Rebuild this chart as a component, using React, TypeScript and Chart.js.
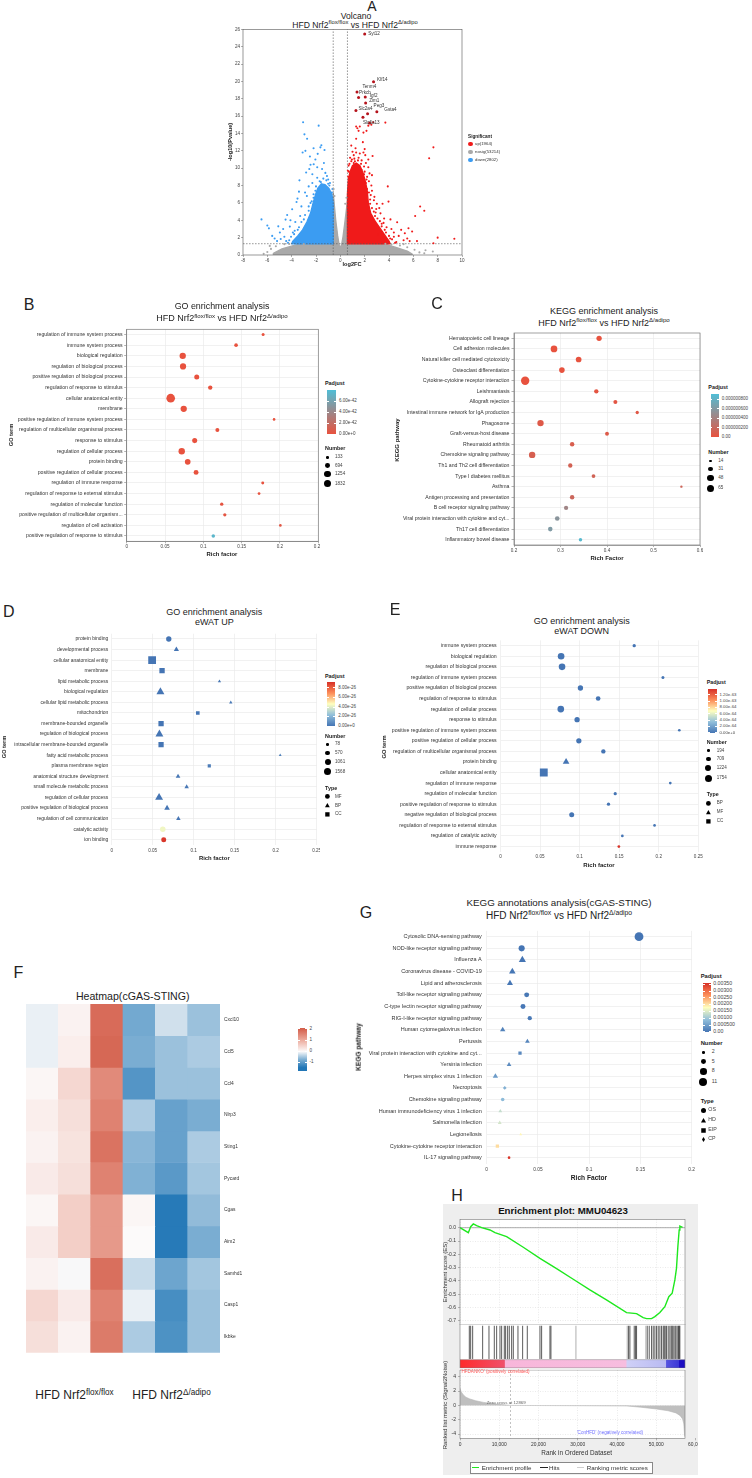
import React, { useEffect, useRef } from 'react';
import { Chart, registerables } from 'chart.js';

Chart.register(...registerables);

const FONT = '"Liberation Sans", Arial, Helvetica, sans-serif';
Chart.defaults.font.family = FONT;
Chart.defaults.color = '#444';

/* ================= A · volcano ================= */
const volcanoFcCut = 0.585;
const volcanoPCut = 1.301;
const volcanoXTicks = [-8, -6, -4, -2, 0, 2, 4, 6, 8, 10];
const volcanoYTicks = [0, 2, 4, 6, 8, 10, 12, 14, 16, 18, 20, 22, 24, 26];
const volcanoGroups = ['up', 'nosig', 'down'];
const volcanoGroupCounts = [1964, 53214, 2802];

const topGenes = ['Syt12', 'Klf14', 'Tenm4', 'Prkcb', 'Igf2', 'Zim1', 'Peg3', 'Gsta4', 'Slc2a4', 'Slc6a13'];
const topGeneFc = [2.0, 2.73, 1.37, 1.5, 2.05, 2.08, 2.24, 3.0, 1.28, 2.4];
const topGeneP = [25.46, 19.96, 18.77, 18.15, 18.2, 17.5, 16.27, 16.5, 16.65, 15.2];
const topExtraFc = [1.86];
const topExtraP = [15.88];

const upPoints = [
  [0.9, 12.6], [1.0, 11.9], [1.1, 11.5], [0.8, 11.2], [1.3, 11.8], [1.6, 11.7], [1.9, 11.8], [2.05, 11.5], [1.5, 11.2],
  [1.2, 10.8], [0.75, 10.5], [1.75, 10.9], [2.1, 10.6], [2.3, 10.1], [1.95, 10.2], [2.4, 9.4], [2.6, 9.2], [2.2, 9.0],
  [0.7, 9.6], [2.0, 12.2], [2.3, 11.0], [2.65, 11.4], [1.3, 13.4], [1.5, 14.3], [1.6, 14.8], [1.4, 14.6], [1.9, 14.1],
  [2.15, 14.3], [1.85, 13.0], [1.25, 12.3], [2.55, 15.0], [2.7, 15.3], [2.3, 14.9], [3.7, 15.25], [1.3, 14.8], [2.6, 7.4],
  [2.8, 6.7], [2.76, 6.3], [3.0, 5.9], [2.5, 6.9], [3.47, 5.9], [3.96, 6.15], [3.9, 7.9], [3.3, 4.8], [3.6, 4.2], [4.12, 4.1],
  [4.67, 3.77], [5.0, 2.9], [4.4, 2.6], [4.8, 2.2], [5.3, 2.5], [5.6, 3.08], [5.5, 1.9], [5.7, 1.6], [4.6, 1.5], [3.2, 5.4],
  [2.9, 4.9], [3.8, 3.2], [3.4, 3.6], [4.2, 3.0], [2.55, 8.0], [2.35, 8.5], [5.2, 1.7], [3.1, 2.4], [4.0, 2.2], [7.65, 12.4],
  [7.3, 11.15], [6.56, 5.58], [6.9, 5.1], [6.15, 4.5], [8.0, 2.0], [7.65, 1.35], [9.37, 1.88], [5.9, 2.7], [6.3, 1.6],
  [0.65, 9.0], [0.7, 8.3], [1.1, 10.6], [2.45, 5.9], [2.75, 5.0], [3.25, 3.9], [3.65, 2.9], [4.1, 1.9], [4.5, 1.4], [2.2, 7.6],
  [1.75, 9.8], [0.95, 11.0], [2.1, 8.3], [0.62, 9.7], [0.9, 10.8], [1.45, 10.9], [1.7, 10.5], [1.95, 9.3], [2.15, 8.7],
  [2.35, 7.2], [2.45, 6.4], [2.6, 5.4], [2.85, 4.5], [3.05, 4.2], [3.4, 3.3], [3.75, 2.6], [4.25, 1.8], [4.4, 2.1], [3.55, 3.7],
  [2.95, 5.3], [2.0, 9.6], [1.15, 11.1], [0.68, 10.3],
];
const downPoints = [
  [-3.06, 15.3], [-1.78, 14.9], [-2.95, 13.9], [-2.73, 13.4], [-2.87, 12.0], [-1.56, 12.65], [-1.64, 12.4], [-1.86, 11.65],
  [-2.5, 11.35], [-2.19, 10.46], [-1.23, 9.46], [-3.36, 8.6], [-2.81, 9.5], [-2.55, 9.9], [-1.9, 10.1], [-1.5, 9.9], [-2.3, 9.3],
  [-1.35, 10.6], [-2.05, 11.0], [-3.52, 6.5], [-3.6, 6.1], [-3.96, 5.27], [-4.37, 4.6], [-4.5, 4.08], [-6.48, 4.1], [-6.0, 3.4],
  [-5.87, 3.07], [-5.6, 2.2], [-4.97, 2.6], [-4.9, 1.85], [-4.15, 3.27], [-3.7, 3.8], [-3.3, 4.5], [-3.2, 5.6], [-2.9, 7.2],
  [-2.6, 7.9], [-2.3, 8.3], [-1.0, 8.7], [-0.9, 8.0], [-3.9, 2.6], [-4.6, 2.1], [-5.2, 1.6], [-5.4, 1.9], [-3.4, 7.3], [-4.1, 4.0],
  [-2.75, 6.8], [-5.1, 3.3], [-4.7, 3.0], [-1.3, 12.1], [-2.2, 12.3], [-3.1, 11.8], [-2.45, 10.4], [-0.7, 7.2], [-1.0, 8.2],
  [-1.6, 8.4], [-2.05, 7.4], [-2.35, 6.2], [-2.6, 5.1], [-3.0, 4.1], [-3.4, 3.2], [-3.8, 2.4], [-4.2, 1.7], [-4.3, 1.4],
  [-1.9, 8.9], [-1.4, 8.8], [-0.65, 7.6], [-0.85, 8.3], [-1.15, 8.6], [-1.7, 8.5], [-2.0, 7.9], [-2.2, 7.0], [-2.45, 6.0],
  [-2.6, 5.6], [-2.9, 4.6], [-3.2, 3.8], [-3.5, 2.9], [-3.75, 2.8], [-4.05, 2.1], [-4.45, 1.6], [-2.2, 6.6], [-1.1, 9.1],
];
const nosigPoints = [
  [-5.7, 0.7], [-6.0, 0.35], [-6.3, 0.15], [-5.3, 1.0], [-4.6, 1.25], [4.2, 1.2], [4.9, 1.1], [5.5, 0.9], [6.1, 0.6], [6.5, 0.3],
  [7.0, 0.55], [6.9, 0.2], [-0.55, 7.6], [-0.48, 6.8], [0.5, 6.6], [0.4, 5.9], [-3.0, 1.25], [5.2, 1.25], [-5.8, 1.05], [7.6, 0.4],
  [-4.2, 1.28], [3.7, 1.28],
];
// outlines of the saturated point clouds
const upCloud = [
  [0.585, 1.3], [0.585, 7], [0.65, 8.6], [0.8, 9.6], [1.0, 10.3], [1.3, 10.6], [1.6, 10.3], [1.85, 9.5], [2.05, 8.5], [2.2, 7.5],
  [2.3, 6.0], [2.5, 4.8], [2.9, 3.8], [3.3, 3.0], [3.7, 2.2], [4.0, 1.6], [4.1, 1.3],
];
const downCloud = [
  [-0.585, 1.3], [-0.585, 6], [-0.7, 7.0], [-0.95, 7.7], [-1.25, 8.1], [-1.55, 8.2], [-1.85, 7.7], [-2.05, 6.9], [-2.25, 5.9],
  [-2.45, 4.8], [-2.75, 3.8], [-3.1, 2.9], [-3.5, 2.2], [-3.9, 1.6], [-4.0, 1.3],
];
const nosigCloud = [
  [-0.585, 7.2], [-0.5, 5.8], [-0.38, 4.0], [-0.22, 2.2], [-0.08, 1.0], [0.08, 1.0], [0.22, 2.1], [0.36, 3.6], [0.48, 5.0],
  [0.585, 6.2], [0.585, 1.3], [3.5, 1.3], [4.5, 0.9], [5.5, 0.45], [5.9, 0.1], [5.9, 0], [-5.5, 0], [-5.5, 0.2], [-4.8, 0.7],
  [-3.8, 1.1], [-3.3, 1.3], [-0.585, 1.3],
];

/* ================= B · GO (HFD) ================= */
const goTerms = [
  'regulation of immune system process', 'immune system process', 'biological regulation', 'regulation of biological process',
  'positive regulation of biological process', 'regulation of response to stimulus', 'cellular anatomical entity', 'membrane',
  'positive regulation of immune system process', 'regulation of multicellular organismal process', 'response to stimulus',
  'regulation of cellular process', 'protein binding', 'positive regulation of cellular process', 'regulation of immune response',
  'regulation of response to external stimulus', 'regulation of molecular function', 'positive regulation of multicellular organism...',
  'regulation of cell activation', 'positive regulation of response to stimulus',
];
const goRich = [0.178, 0.1427, 0.0731, 0.0735, 0.0914, 0.109, 0.0574, 0.0744, 0.1923, 0.1183, 0.0887, 0.0718, 0.0796, 0.0905, 0.1775, 0.1727, 0.124, 0.128, 0.2005, 0.113];
const goNumber = [190, 330, 1300, 1240, 740, 520, 2660, 1280, 133, 420, 760, 1350, 1000, 720, 180, 150, 260, 250, 133, 300];
const goPadj = [2.1e-45, 3.4e-46, 5.2e-46, 6.0e-46, 3.3e-45, 1.2e-44, 4.5e-46, 8.1e-46, 1.5e-44, 2.6e-44, 9.0e-46, 7.2e-46, 2.3e-45, 5.5e-45, 3.1e-44, 4.4e-44, 1.8e-43, 2.2e-43, 3.5e-43, 7.4e-42];
const goPadjMax = 8e-42;
const goPadjTicks = [6e-42, 4e-42, 2e-42, 0];
const goPadjLabels = ['6.00e-42', '4.00e-42', '2.00e-42', '0.00e+0'];
const goNumberKeys = [133, 694, 1254, 1832];
const goXTicks = [0, 0.05, 0.1, 0.15, 0.2, 0.25];

/* ================= C · KEGG (HFD) ================= */
const keggTerms = [
  'Hematopoietic cell lineage', 'Cell adhesion molecules', 'Natural killer cell mediated cytotoxicity', 'Osteoclast differentiation',
  'Cytokine-cytokine receptor interaction', 'Leishmaniasis', 'Allograft rejection', 'Intestinal immune network for IgA production',
  'Phagosome', 'Graft-versus-host disease', 'Rheumatoid arthritis', 'Chemokine signaling pathway', 'Th1 and Th2 cell differentiation',
  'Type I diabetes mellitus', 'Asthma', 'Antigen processing and presentation', 'B cell receptor signaling pathway',
  'Viral protein interaction with cytokine and cyt...', 'Th17 cell differentiation', 'Inflammatory bowel disease',
];
const keggRich = [0.383, 0.286, 0.339, 0.303, 0.224, 0.377, 0.418, 0.465, 0.257, 0.4, 0.325, 0.239, 0.321, 0.371, 0.56, 0.325, 0.312, 0.293, 0.278, 0.343];
const keggNumber = [40, 56, 44, 43, 80, 30, 27, 21, 52, 26, 31, 53, 30, 25, 14, 31, 29, 33, 32, 22];
const keggPadj = [1.2e-9, 2.0e-10, 8.5e-9, 6.1e-9, 3.0e-11, 2.4e-8, 2.9e-8, 4.6e-8, 5.8e-8, 6.5e-8, 9.8e-8, 1.1e-7, 1.3e-7, 1.4e-7, 1.6e-7, 1.7e-7, 4.3e-7, 5.6e-7, 6.1e-7, 8.6e-7];
const keggPadjMax = 9.04e-7;
const keggPadjTicks = [8e-7, 6e-7, 4e-7, 2e-7, 0];
const keggPadjLabels = ['0.000000800', '0.000000600', '0.000000400', '0.000000200', '0.00'];
const keggNumberKeys = [14, 31, 48, 65];
const keggXTicks = [0.2, 0.3, 0.4, 0.5, 0.6];

/* ================= D · GO eWAT UP ================= */
const upTerms = [
  'protein binding', 'developmental process', 'cellular anatomical entity', 'membrane', 'lipid metabolic process',
  'biological regulation', 'cellular lipid metabolic process', 'mitochondrion', 'membrane-bounded organelle',
  'regulation of biological process', 'intracellular membrane-bounded organelle', 'fatty acid metabolic process',
  'plasma membrane region', 'anatomical structure development', 'small molecule metabolic process', 'regulation of cellular process',
  'positive regulation of biological process', 'regulation of cell communication', 'catalytic activity', 'ion binding',
];
const upType = ['MF', 'BP', 'CC', 'CC', 'BP', 'BP', 'BP', 'CC', 'CC', 'BP', 'CC', 'BP', 'CC', 'BP', 'BP', 'BP', 'BP', 'BP', 'MF', 'MF'];
const upRich = [0.0696, 0.0789, 0.0493, 0.0614, 0.1314, 0.0594, 0.1452, 0.105, 0.0602, 0.0582, 0.0602, 0.2055, 0.119, 0.0809, 0.0914, 0.0578, 0.0675, 0.0813, 0.0623, 0.0635];
const upNumber = [700, 520, 2200, 870, 125, 1590, 140, 300, 850, 1560, 830, 80, 200, 385, 350, 1550, 650, 350, 760, 585];
const upPadj = [1.1e-30, 3.2e-29, 5.5e-31, 2.4e-30, 6.8e-28, 1.9e-30, 1.2e-27, 3.5e-28, 8.7e-30, 2.6e-30, 1.5e-29, 4.1e-27, 2.2e-27, 5.6e-28, 9.4e-28, 3.3e-30, 2.8e-29, 7.7e-28, 4.3e-26, 9.1e-26];
const upPadjMax = 9.25e-26;
const upPadjTicks = [8e-26, 6e-26, 4e-26, 2e-26, 0];
const upPadjLabels = ['8.00e-26', '6.00e-26', '4.00e-26', '2.00e-26', '0.00e+0'];
const upNumberKeys = [78, 570, 1061, 1568];
const upTypeKeys = ['MF', 'BP', 'CC'];

/* ================= E · GO eWAT DOWN ================= */
const downTerms = [
  'immune system process', 'biological regulation', 'regulation of biological process', 'regulation of immune system process',
  'positive regulation of biological process', 'regulation of response to stimulus', 'regulation of cellular process',
  'response to stimulus', 'positive regulation of immune system process', 'positive regulation of cellular process',
  'regulation of multicellular organismal process', 'protein binding', 'cellular anatomical entity', 'regulation of immune response',
  'regulation of molecular function', 'positive regulation of response to stimulus', 'negative regulation of biological process',
  'regulation of response to external stimulus', 'regulation of catalytic activity', 'immune response',
];
const downType = ['BP', 'BP', 'BP', 'BP', 'BP', 'BP', 'BP', 'BP', 'BP', 'BP', 'BP', 'MF', 'CC', 'BP', 'BP', 'BP', 'BP', 'BP', 'BP', 'BP'];
const downRich = [0.169, 0.0766, 0.0778, 0.2053, 0.101, 0.1234, 0.0762, 0.0968, 0.226, 0.099, 0.13, 0.0829, 0.0547, 0.2146, 0.145, 0.1365, 0.09, 0.1947, 0.154, 0.1496];
const downNumber = [325, 1430, 1410, 255, 895, 670, 1450, 880, 194, 870, 575, 1205, 2400, 200, 300, 310, 780, 194, 200, 210];
const downPadj = [1.3e-90, 4.4e-100, 6.2e-99, 2.5e-85, 1.9e-95, 8.1e-93, 3.6e-99, 2.2e-94, 7.7e-80, 5.3e-94, 1.4e-88, 9.2e-92, 6.6e-101, 3.9e-78, 2.8e-75, 4.7e-74, 1.6e-70, 8.3e-70, 5.1e-66, 1.36e-63];
const downPadjMax = 1.38e-63;
const downPadjTicks = [1.2e-63, 1.0e-63, 8e-64, 6e-64, 4e-64, 2e-64, 0];
const downPadjLabels = ['1.20e-63', '1.00e-63', '8.00e-64', '6.00e-64', '4.00e-64', '2.00e-64', '0.00e+0'];
const downNumberKeys = [194, 709, 1224, 1754];
const downTypeKeys = ['BP', 'MF', 'CC'];

/* ================= F · heatmap ================= */
const heatGenes = ['Cxcl10', 'Ccl5', 'Ccl4', 'Nlrp3', 'Sting1', 'Pycard', 'Cgas', 'Aim2', 'Samhd1', 'Casp1', 'Ikbke'];
const heatSamples = ['flox1', 'flox2', 'flox3', 'ko1', 'ko2', 'ko3'];
const heatValues = [
  [-0.1, 0.1, 1.85, -0.8, -0.25, -0.55],
  [-0.1, 0.15, 1.9, -0.75, -0.55, -0.45],
  [0.05, 0.45, 1.45, -1.05, -0.55, -0.55],
  [0.15, 0.35, 1.55, -0.45, -0.9, -0.75],
  [0.1, 0.3, 1.75, -0.65, -0.9, -0.45],
  [0.2, 0.35, 1.55, -0.7, -1.0, -0.5],
  [0.05, 0.55, 1.25, 0.05, -1.4, -0.6],
  [0.2, 0.55, 1.25, 0.0, -1.4, -0.75],
  [0.1, -0.02, 1.8, -0.3, -0.85, -0.5],
  [0.45, 0.2, 1.55, -0.1, -1.15, -0.55],
  [0.35, 0.1, 1.65, -0.45, -1.1, -0.55],
];
const heatLegendMin = -1.75;
const heatLegendMax = 2.09;
const heatLegendTicks = [2, 1, 0, -1];

/* ================= G · KEGG cGAS-STING ================= */
const stingTerms = [
  'Cytosolic DNA-sensing pathway', 'NOD-like receptor signaling pathway', 'Influenza A', 'Coronavirus disease - COVID-19',
  'Lipid and atherosclerosis', 'Toll-like receptor signaling pathway', 'C-type lectin receptor signaling pathway',
  'RIG-I-like receptor signaling pathway', 'Human cytomegalovirus infection', 'Pertussis',
  'Viral protein interaction with cytokine and cyt...', 'Yersinia infection', 'Herpes simplex virus 1 infection', 'Necroptosis',
  'Chemokine signaling pathway', 'Human immunodeficiency virus 1 infection', 'Salmonella infection', 'Legionellosis',
  'Cytokine-cytokine receptor interaction', 'IL-17 signaling pathway',
];
const stingType = ['OS', 'OS', 'HD', 'HD', 'HD', 'OS', 'OS', 'OS', 'HD', 'HD', 'EIP', 'HD', 'HD', 'CP', 'OS', 'HD', 'HD', 'HD', 'EIP', 'OS'];
const stingRich = [0.1486, 0.0341, 0.0348, 0.025, 0.0227, 0.039, 0.0354, 0.042, 0.0156, 0.0397, 0.0325, 0.0218, 0.0085, 0.0176, 0.0156, 0.0133, 0.0127, 0.0332, 0.0104, 0.0218];
const stingNumber = [13, 7, 8, 7, 6, 5, 5, 4, 5, 4, 3, 4, 5, 3, 3, 3, 3, 2, 3, 2];
const stingPadj = [1.2e-9, 4.1e-6, 5.3e-6, 1.8e-5, 2.6e-5, 3.1e-5, 3.9e-5, 6.4e-5, 1.5e-4, 1.9e-4, 2.3e-4, 2.8e-4, 4.6e-4, 7.1e-4, 8.4e-4, 1.31e-3, 1.42e-3, 1.85e-3, 2.05e-3, 3.49e-3];
const stingPadjMax = 0.00355;
const stingPadjTicks = [0.0035, 0.003, 0.0025, 0.002, 0.0015, 0.001, 0.0005, 0];
const stingPadjLabels = ['0.00350', '0.00300', '0.00250', '0.00200', '0.00150', '0.00100', '0.000500', '0.00'];
const stingNumberKeys = [2, 5, 8, 11];
const stingTypeKeys = ['OS', 'HD', 'EIP', 'CP'];
const stingXTicks = [0, 0.05, 0.1, 0.15, 0.2];

/* ================= H · GSEA ================= */
const rankCount = 57300;
const zeroCross = 12869;
const rankTicks = [0, 10000, 20000, 30000, 40000, 50000, 60000];
const esRank = [0, 2120, 2714, 3393, 4241, 5514, 7635, 8908, 11875, 16110, 20360, 24600, 28840, 33080, 37300, 42420, 44960, 46650, 47510, 48780, 49630, 50900, 52170, 53180, 54040, 54720, 55130, 55480, 55820, 55990, 56680];
const esScore = [0, -0.0375, 0.0075, 0.028, 0.015, 0, -0.017, -0.0375, -0.0675, -0.147, -0.23, -0.307, -0.387, -0.467, -0.542, -0.637, -0.645, -0.675, -0.6825, -0.6825, -0.6675, -0.637, -0.5925, -0.5175, -0.492, -0.392, -0.305, -0.142, -0.0175, 0.0125, 0.0025];
const esTicks = [0, -0.1, -0.2, -0.3, -0.4, -0.5, -0.6, -0.7];
const hitRanks = [
  2375, 2714, 3224, 5769, 7380, 8738, 9332, 10180, 10605, 11283, 11623, 12132, 12556, 13150, 13575, 14762, 15950, 17138, 20362,
  20786, 22907, 23161, 42928, 43267, 44370, 44709, 44964, 47679, 48188, 48782, 49206, 49630, 50054, 50479, 50903, 51327, 51751,
  52006, 52260, 52600, 53024, 53448, 53787, 54042, 54296, 54720, 54975, 55314, 55654, 55824, 55993,
];
const faintHitRanks = [29524, 42588, 47339];
const bandRanks = [0, 11300, 11500, 42300, 42500, 52400, 52600, 55700, 55900, 57300];
const bandColors = ['#ff2b2b', '#f0506a', '#f8b6da', '#f7bddf', '#cfd0f7', '#b9baf2', '#5553e0', '#3c38d6', '#1e0fc4', '#1b0bc0'];
const metricRank = [0, 300, 800, 1500, 2500, 4000, 6000, 8000, 10000, 12869, 20000, 30000, 42500, 46000, 50000, 53000, 55000, 56000, 56700, 57000, 57200, 57300];
const metricValue = [2.4, 1.9, 1.5, 1.15, 0.9, 0.65, 0.42, 0.28, 0.15, 0, -0.02, -0.04, -0.08, -0.25, -0.5, -0.75, -1.05, -1.4, -1.9, -2.6, -4.2, -4.4];
const metricTicks = [4, 2, 0, -2, -4];

/* ================= styling ================= */
const RED = '#f01a1a';
const BLUE = '#3b9cf2';
const GREY = '#a9a9a9';
const TOP_RED = '#b5121b';
const BC_RAMP = [[0, 232, 82, 62], [1, 80, 190, 214]];
const RYB_RAMP = [[0, 69, 117, 180], [0.25, 145, 191, 219], [0.5, 255, 255, 191], [0.75, 252, 141, 89], [1, 215, 48, 39]];
const HEAT_STOPS = [[-1.45, 33, 118, 182], [-0.7, 128, 177, 212], [0, 252, 250, 250], [1, 236, 172, 158], [2, 212, 96, 77]];
const SHAPE_SCALE: any = { circle: 1, triangle: 1.25, rect: 1.3, rectRot: 1.05 };
const geneNudge = [[3.5, 0], [3.5, -2], [5.5, -5], [0.5, -4.5], [4.5, -1.5], [3.5, -2.5], [6, -8], [7.5, -2.5], [2.5, -2], [-6.5, 0]];

function mix(stops: number[][], t: number) {
  const v = Math.max(stops[0][0], Math.min(stops[stops.length - 1][0], t));
  for (let i = 1; i < stops.length; i++) {
    if (v <= stops[i][0]) {
      const a = stops[i - 1], b = stops[i];
      const u = (v - a[0]) / (b[0] - a[0] || 1);
      return `rgb(${Math.round(a[1] + (b[1] - a[1]) * u)},${Math.round(a[2] + (b[2] - a[2]) * u)},${Math.round(a[3] + (b[3] - a[3]) * u)})`;
    }
  }
  const l = stops[stops.length - 1];
  return `rgb(${l[1]},${l[2]},${l[3]})`;
}
const cssRamp = (stops: number[][]) =>
  `linear-gradient(to top, ${stops.map((s) => `rgb(${s[1]},${s[2]},${s[3]}) ${(s[0] * 100).toFixed(2)}%`).join(', ')})`;
const heatColor = (v: number) => mix(HEAT_STOPS, v);
const heatBarStops = () => {
  const span = heatLegendMax - heatLegendMin;
  const first = HEAT_STOPS[0], last = HEAT_STOPS[HEAT_STOPS.length - 1];
  return [[0, first[1], first[2], first[3]], ...HEAT_STOPS.map((s) => [(s[0] - heatLegendMin) / span, s[1], s[2], s[3]]), [1, last[1], last[2], last[3]]];
};
const sizeScale = (n1: number, r1: number, n2: number, r2: number) => (n: number) =>
  r1 + ((r2 - r1) * (Math.sqrt(n) - Math.sqrt(n1))) / (Math.sqrt(n2) - Math.sqrt(n1));
const goSize = sizeScale(133, 1.33, 1832, 3.67);
const keggSize = sizeScale(14, 1.17, 65, 3.67);
const upSize = sizeScale(78, 1.33, 1568, 3.67);
const downSize = sizeScale(194, 1.33, 1754, 3.67);
const stingSize = sizeScale(2, 1.33, 11, 4.0);
const fmtNum = (v: number) => String(Number(v.toFixed(4)));

/* ================= chart plumbing ================= */
type Box = { x: number; y: number; w: number; h: number };
type Area = { l: number; t: number; r: number; b: number };

function geom(box: Box, area: Area) {
  return {
    layout: { autoPadding: false, padding: { left: 0, top: area.t - box.y, right: box.x + box.w - area.r, bottom: 0 } },
    yW: area.l - box.x,
    xH: box.y + box.h - area.b,
  };
}
const fixSize = (size: number) => (sc: any) => {
  if (sc.isHorizontal()) sc.height = size;
  else sc.width = size;
  sc.paddingLeft = 0;
  sc.paddingRight = 0;
  sc.paddingTop = 0;
  sc.paddingBottom = 0;
};
const setTicks = (vals: number[]) => (sc: any) => {
  sc.ticks = vals.map((v) => ({ value: v }));
};
const baseOptions = (layout: any) => ({
  responsive: false,
  maintainAspectRatio: false,
  animation: false,
  events: [],
  layout,
  plugins: { legend: { display: false }, tooltip: { enabled: false }, title: { display: false } },
});

const framePlugin = (color: string, width = 0.6) => ({
  id: 'frame',
  afterDraw(chart: any) {
    const { ctx, chartArea: a } = chart;
    ctx.save();
    ctx.strokeStyle = color;
    ctx.lineWidth = width;
    ctx.strokeRect(a.left, a.top, a.right - a.left, a.bottom - a.top);
    ctx.restore();
  },
});
const areaFillPlugin = (color: string) => ({
  id: 'areaFill',
  beforeDraw(chart: any) {
    const { ctx, chartArea: a } = chart;
    ctx.save();
    ctx.fillStyle = color;
    ctx.fillRect(a.left, a.top, a.right - a.left, a.bottom - a.top);
    ctx.restore();
  },
});
const cloudPlugin = (clouds: { pts: number[][]; color: string }[]) => ({
  id: 'clouds',
  beforeDatasetsDraw(chart: any) {
    const { ctx, chartArea: a, scales } = chart;
    ctx.save();
    ctx.beginPath();
    ctx.rect(a.left, a.top, a.right - a.left, a.bottom - a.top);
    ctx.clip();
    clouds.forEach((c) => {
      ctx.beginPath();
      c.pts.forEach(([vx, vy], i) => {
        const px = scales.x.getPixelForValue(vx);
        const py = scales.y.getPixelForValue(vy);
        if (i) ctx.lineTo(px, py);
        else ctx.moveTo(px, py);
      });
      ctx.closePath();
      ctx.fillStyle = c.color;
      ctx.strokeStyle = c.color;
      ctx.lineWidth = 1.4;
      ctx.lineJoin = 'round';
      ctx.fill();
      ctx.stroke();
    });
    ctx.restore();
  },
});
const geneLabelPlugin = {
  id: 'geneLabels',
  afterDatasetsDraw(chart: any) {
    const { ctx, scales } = chart;
    ctx.save();
    ctx.font = `4.6px ${FONT}`;
    ctx.fillStyle = '#333';
    ctx.textBaseline = 'middle';
    topGenes.forEach((name, i) => {
      ctx.fillText(name, scales.x.getPixelForValue(topGeneFc[i]) + geneNudge[i][0], scales.y.getPixelForValue(topGeneP[i]) + geneNudge[i][1]);
    });
    ctx.restore();
  },
};
const vLinePlugin = (value: number, color: string, dash: number[]) => ({
  id: 'vline',
  afterDatasetsDraw(chart: any) {
    const { ctx, chartArea: a, scales } = chart;
    const px = scales.x.getPixelForValue(value);
    ctx.save();
    ctx.strokeStyle = color;
    ctx.lineWidth = 0.7;
    ctx.setLineDash(dash);
    ctx.beginPath();
    ctx.moveTo(px, a.top);
    ctx.lineTo(px, a.bottom);
    ctx.stroke();
    ctx.restore();
  },
});
const hLinePlugin = (value: number, color: string, width: number) => ({
  id: 'hline',
  beforeDatasetsDraw(chart: any) {
    const { ctx, chartArea: a, scales } = chart;
    const py = scales.y.getPixelForValue(value);
    ctx.save();
    ctx.strokeStyle = color;
    ctx.lineWidth = width;
    ctx.beginPath();
    ctx.moveTo(a.left, py);
    ctx.lineTo(a.right, py);
    ctx.stroke();
    ctx.restore();
  },
});
const BAND_TOP = 0.19;
const rankBandPlugin = {
  id: 'rankBand',
  beforeDatasetsDraw(chart: any) {
    const { ctx, scales } = chart;
    const x0 = scales.x.getPixelForValue(0);
    const x1 = scales.x.getPixelForValue(rankCount);
    const yTop = scales.y.getPixelForValue(BAND_TOP);
    const yBot = scales.y.getPixelForValue(0);
    const grad = ctx.createLinearGradient(x0, 0, x1, 0);
    bandRanks.forEach((r, i) => grad.addColorStop(r / rankCount, bandColors[i]));
    ctx.save();
    ctx.fillStyle = grad;
    ctx.fillRect(x0, yTop, x1 - x0, yBot - yTop);
    ctx.restore();
  },
};

function ChartCanvas({ box, make }: { box: Box; make: () => any }) {
  const ref = useRef<HTMLCanvasElement | null>(null);
  useEffect(() => {
    const chart = new Chart(ref.current as HTMLCanvasElement, make());
    return () => chart.destroy();
  }, []);
  return (
    <canvas
      ref={ref}
      width={box.w}
      height={box.h}
      style={{ position: 'absolute', left: box.x, top: box.y, width: box.w, height: box.h }}
    />
  );
}

/* ================= chart configs ================= */
const VOLCANO_BOX = { x: 222, y: 24, w: 243, h: 244 };
const VOLCANO_AREA = { l: 243, t: 29.3, r: 462, b: 255 };

function volcanoConfig() {
  const g = geom(VOLCANO_BOX, VOLCANO_AREA);
  const pts = (arr: number[][]) => arr.map(([x, y]) => ({ x, y }));
  const dots = (data: any, color: string, r: number) => ({ data, backgroundColor: color, pointRadius: r, pointBorderWidth: 0 });
  const guide = (data: any) => ({ data, showLine: true, borderColor: '#555', borderWidth: 0.6, borderDash: [1.6, 1.4], pointRadius: 0 });
  return {
    type: 'scatter',
    data: {
      datasets: [
        dots(pts(nosigPoints), GREY, 1.05),
        dots(pts(upPoints), RED, 1.05),
        dots(pts(downPoints), BLUE, 1.05),
        dots(topGeneFc.map((x, i) => ({ x, y: topGeneP[i] })).concat(topExtraFc.map((x, i) => ({ x, y: topExtraP[i] }))), TOP_RED, 1.5),
        guide([{ x: -volcanoFcCut, y: 0 }, { x: -volcanoFcCut, y: 26 }]),
        guide([{ x: volcanoFcCut, y: 0 }, { x: volcanoFcCut, y: 26 }]),
        guide([{ x: -8, y: volcanoPCut }, { x: 10, y: volcanoPCut }]),
      ],
    },
    options: {
      ...baseOptions(g.layout),
      scales: {
        x: {
          type: 'linear', min: -8, max: 10, afterBuildTicks: setTicks(volcanoXTicks), afterFit: fixSize(g.xH),
          ticks: { font: { size: 4.6 }, color: '#444', padding: 0.5 },
          grid: { drawOnChartArea: false, drawTicks: true, tickLength: 2, tickColor: '#666', tickWidth: 0.5 },
          border: { display: false },
        },
        y: {
          type: 'linear', min: 0, max: 26, afterBuildTicks: setTicks(volcanoYTicks), afterFit: fixSize(g.yW),
          ticks: { font: { size: 4.6 }, color: '#444', padding: 1 },
          grid: { drawOnChartArea: false, drawTicks: true, tickLength: 2, tickColor: '#666', tickWidth: 0.5 },
          border: { display: false },
        },
      },
    },
    plugins: [
      cloudPlugin([
        { pts: nosigCloud, color: GREY },
        { pts: upCloud, color: RED },
        { pts: downCloud, color: BLUE },
      ]),
      geneLabelPlugin,
      framePlugin('#555', 0.6),
    ],
  };
}

function dotConfig(s: any) {
  const g = geom(s.box, s.area);
  const shapes = s.labels.map((_: string, i: number) => (s.types ? s.shapeOf[s.types[i]] : 'circle'));
  const radii = s.nums.map((v: number, i: number) => s.size(v) * SHAPE_SCALE[shapes[i]]);
  const colors = s.padj.map((v: number) => mix(s.ramp, v / s.padjMax));
  const n = s.labels.length;
  const gridColor = '#ebebeb';
  return {
    type: 'scatter',
    data: {
      datasets: [{
        data: s.xs.map((x: number, i: number) => ({ x, y: i })),
        pointStyle: shapes, pointRadius: radii, pointBackgroundColor: colors, pointBorderWidth: 0,
      }],
    },
    options: {
      ...baseOptions(g.layout),
      scales: {
        x: {
          type: 'linear', min: s.xMin, max: s.xMax, afterBuildTicks: setTicks(s.xTicks), afterFit: fixSize(g.xH),
          ticks: { font: { size: s.tickFont }, color: '#444', padding: s.xPad, callback: (v: number) => fmtNum(v) },
          grid: { color: gridColor, lineWidth: 0.7, drawTicks: s.tickMarks, tickLength: 2, tickColor: '#666', tickWidth: 0.5 },
          border: { display: s.tickMarks, color: '#777', width: 0.6 },
        },
        y: {
          type: 'linear', min: -0.5, max: n - 0.5, reverse: true,
          afterBuildTicks: setTicks(s.labels.map((_: string, i: number) => i)), afterFit: fixSize(g.yW),
          ticks: { autoSkip: false, font: { size: s.labelFont }, color: '#333', padding: s.yPad, callback: (v: number) => s.labels[v] },
          grid: { color: gridColor, lineWidth: 0.7, drawTicks: s.tickMarks, tickLength: 2.5, tickColor: '#666', tickWidth: 0.5 },
          border: { display: s.tickMarks, color: '#777', width: 0.6 },
        },
      },
    },
    plugins: s.frame ? [framePlugin(s.frame, 0.7)] : [],
  };
}

const HEAT_BOX = { x: 26, y: 1004, w: 224, h: 349 };
const HEAT_AREA = { l: 26, t: 1004, r: 220, b: 1352.7 };
function heatConfig() {
  return {
    type: 'bar',
    data: {
      labels: heatSamples,
      datasets: heatGenes.map((gene, gi) => ({
        label: gene,
        data: heatSamples.map(() => 1),
        backgroundColor: heatValues[gi].map(heatColor),
        borderWidth: 0,
        barPercentage: 1,
        categoryPercentage: 1,
        stack: 'cells',
      })),
    },
    options: {
      ...baseOptions({ autoPadding: false, padding: { left: 0, top: 0, right: 0, bottom: 0 } }),
      scales: {
        x: { stacked: true, afterFit: fixSize(HEAT_BOX.y + HEAT_BOX.h - HEAT_AREA.b), ticks: { display: false }, grid: { display: false }, border: { display: false } },
        y: { stacked: true, min: 0, max: heatGenes.length, reverse: true, display: false, afterFit: fixSize(0) },
        rows: {
          type: 'category', axis: 'y', position: 'right', labels: heatGenes, offset: true,
          afterFit: fixSize(HEAT_BOX.x + HEAT_BOX.w - HEAT_AREA.r),
          ticks: { font: { size: 4.9 }, color: '#333', padding: 4 },
          grid: { display: false, drawTicks: false }, border: { display: false },
        },
      },
    },
  };
}

const ES_BOX = { x: 440, y: 1216, w: 250, h: 109 };
const ES_AREA = { l: 460, t: 1219.3, r: 685, b: 1324.3 };
const HIT_BOX = { x: 440, y: 1324.3, w: 250, h: 44 };
const HIT_AREA = { l: 460, t: 1324.3, r: 685, b: 1368.3 };
const MET_BOX = { x: 440, y: 1370, w: 258, h: 82 };
const MET_AREA = { l: 460, t: 1370, r: 685, b: 1438.3 };
const dottedGrid = { color: '#d4d4d4', lineWidth: 0.5 };

function esConfig() {
  const g = geom(ES_BOX, ES_AREA);
  return {
    type: 'scatter',
    data: { datasets: [{ data: esRank.map((x, i) => ({ x, y: esScore[i] })), showLine: true, borderColor: '#1ee81e', borderWidth: 1.4, pointRadius: 0 }] },
    options: {
      ...baseOptions(g.layout),
      scales: {
        x: {
          type: 'linear', min: 0, max: rankCount, afterBuildTicks: setTicks(rankTicks.filter((v) => v <= rankCount)), afterFit: fixSize(g.xH),
          ticks: { display: false }, grid: { ...dottedGrid, drawTicks: false }, border: { display: false, dash: [1, 1.5] },
        },
        y: {
          type: 'linear', min: -0.725, max: 0.063, afterBuildTicks: setTicks(esTicks), afterFit: fixSize(g.yW),
          ticks: { font: { size: 5 }, color: '#333', padding: 2, callback: (v: number) => v.toFixed(1) },
          grid: { ...dottedGrid, drawTicks: true, tickLength: 2, tickColor: '#777', tickWidth: 0.5 }, border: { display: false, dash: [1, 1.5] },
        },
      },
    },
    plugins: [areaFillPlugin('#ffffff'), hLinePlugin(0, '#8a8a8a', 0.7), framePlugin('#777', 0.6)],
  };
}

function hitConfig() {
  const g = geom(HIT_BOX, HIT_AREA);
  const ticksAt = (ranks: number[]) => ranks.flatMap((r) => [{ x: r, y: 0.205 }, { x: r, y: 0.96 }, { x: r, y: null }]);
  return {
    type: 'scatter',
    data: {
      datasets: [
        { data: ticksAt(faintHitRanks), showLine: true, spanGaps: false, borderColor: '#8c8c8c', borderWidth: 0.7, pointRadius: 0 },
        { data: ticksAt(hitRanks), showLine: true, spanGaps: false, borderColor: '#151515', borderWidth: 0.7, pointRadius: 0 },
      ],
    },
    options: {
      ...baseOptions(g.layout),
      scales: {
        x: { type: 'linear', min: 0, max: rankCount, afterFit: fixSize(g.xH), ticks: { display: false }, grid: { display: false }, border: { display: false } },
        y: { type: 'linear', min: 0, max: 1, afterFit: fixSize(g.yW), ticks: { display: false }, grid: { display: false }, border: { display: false } },
      },
    },
    plugins: [areaFillPlugin('#ffffff'), rankBandPlugin, hLinePlugin(BAND_TOP, '#888', 0.5), framePlugin('#777', 0.6)],
  };
}

function metricConfig() {
  const g = geom(MET_BOX, MET_AREA);
  return {
    type: 'scatter',
    data: {
      datasets: [{
        data: metricRank.map((x, i) => ({ x, y: metricValue[i] })),
        showLine: true, fill: 'origin', backgroundColor: '#bfbfbf', borderColor: '#b5b5b5', borderWidth: 0.6, pointRadius: 0,
      }],
    },
    options: {
      ...baseOptions(g.layout),
      scales: {
        x: {
          type: 'linear', min: 0, max: rankCount, afterBuildTicks: setTicks(rankTicks), afterFit: fixSize(g.xH),
          ticks: { font: { size: 4.9 }, color: '#333', padding: 1.5, callback: (v: number) => v.toLocaleString('en-US') },
          grid: {
            color: (c: any) => (c.tick && c.tick.value > rankCount ? 'rgba(0,0,0,0)' : '#d4d4d4'), lineWidth: 0.5,
            drawTicks: true, tickLength: 2, tickColor: '#777', tickWidth: 0.5,
          },
          border: { display: false, dash: [1, 1.5] },
        },
        y: {
          type: 'linear', min: -4.6, max: 4.95, afterBuildTicks: setTicks(metricTicks), afterFit: fixSize(g.yW),
          ticks: { font: { size: 5 }, color: '#333', padding: 2 },
          grid: { ...dottedGrid, drawTicks: true, tickLength: 2, tickColor: '#777', tickWidth: 0.5 }, border: { display: false, dash: [1, 1.5] },
        },
      },
    },
    plugins: [areaFillPlugin('#ffffff'), vLinePlugin(zeroCross, '#a8a8a8', [2, 2]), framePlugin('#777', 0.6)],
  };
}

/* ================= HTML pieces ================= */
function Txt({ x, y, s, children, a = 'c', b = false, c = '#222', r = false }: any) {
  const tx = a === 'c' ? '-50%' : a === 'r' ? '-100%' : '0%';
  return (
    <div
      style={{
        position: 'absolute', left: x, top: y, fontSize: s, fontWeight: b ? 700 : 400, color: c, whiteSpace: 'nowrap',
        lineHeight: 1, transform: `translate(${tx}, -50%)${r ? ' rotate(-90deg)' : ''}`,
      }}
    >
      {children}
    </div>
  );
}
const Sup = ({ children }: any) => <span style={{ fontSize: '0.68em', position: 'relative', top: '-0.55em' }}>{children}</span>;
const Compare = () => (
  <>
    HFD Nrf2<Sup>flox/flox</Sup> vs HFD Nrf2<Sup>Δ/adipo</Sup>
  </>
);

function ColorBar({ x, y, w, h, stops, max, min = 0, ticks, labels, lx, fs }: any) {
  return (
    <>
      <div style={{ position: 'absolute', left: x, top: y, width: w, height: h, background: cssRamp(stops) }} />
      {ticks.map((v: number, i: number) => {
        const ty = y + h * (1 - (v - min) / (max - min));
        return (
          <React.Fragment key={i}>
            <div style={{ position: 'absolute', left: x, top: ty - 0.25, width: w * 0.2, height: 0.5, background: '#fff' }} />
            <div style={{ position: 'absolute', left: x + w * 0.8, top: ty - 0.25, width: w * 0.2, height: 0.5, background: '#fff' }} />
            <Txt x={lx} y={ty} s={fs} a="l" c="#444">{labels[i]}</Txt>
          </React.Fragment>
        );
      })}
    </>
  );
}
function SizeKeys({ cx, ys, values, size, lx, fs }: any) {
  return (
    <>
      {values.map((v: number, i: number) => {
        const r = size(v);
        return (
          <React.Fragment key={i}>
            <div style={{ position: 'absolute', left: cx - r, top: ys[i] - r, width: 2 * r, height: 2 * r, borderRadius: '50%', background: '#000' }} />
            <Txt x={lx} y={ys[i]} s={fs} a="l" c="#444">{v}</Txt>
          </React.Fragment>
        );
      })}
    </>
  );
}
function ShapeIcon({ kind, cx, cy, r }: any) {
  const d = 2 * r;
  let el;
  if (kind === 'circle') el = <circle cx={r} cy={r} r={r} />;
  else if (kind === 'triangle') el = <polygon points={`${r},0 ${d},${d * 0.9} 0,${d * 0.9}`} />;
  else if (kind === 'rect') el = <rect x={r * 0.1} y={r * 0.1} width={d * 0.9} height={d * 0.9} />;
  else el = <polygon points={`${r},0 ${r * 1.6},${r} ${r},${d} ${r * 0.4},${r}`} />;
  return (
    <svg width={d} height={d} style={{ position: 'absolute', left: cx - r, top: cy - r, overflow: 'visible' }} fill="#000">
      {el}
    </svg>
  );
}
function TypeKeys({ cx, ys, keys, shapeOf, lx, fs, r }: any) {
  return (
    <>
      {keys.map((k: string, i: number) => (
        <React.Fragment key={k}>
          <ShapeIcon kind={shapeOf[k]} cx={cx} cy={ys[i]} r={r} />
          <Txt x={lx} y={ys[i]} s={fs} a="l" c="#444">{k}</Txt>
        </React.Fragment>
      ))}
    </>
  );
}

const letter = (ch: string, x: number, y: number, s = 16) => <Txt x={x} y={y} s={s}>{ch}</Txt>;

/* ================= panels ================= */
function PanelA() {
  const colors = [RED, GREY, BLUE];
  const ys = [144, 152, 160];
  return (
    <>
      {letter('A', 372, 6, 14)}
      <Txt x={356} y={15.5} s={8.6}>Volcano</Txt>
      <Txt x={355} y={24.5} s={8.6}><Compare /></Txt>
      <ChartCanvas box={VOLCANO_BOX} make={volcanoConfig} />
      <Txt x={231} y={142} s={5.6} b r>-log10(Pvalue)</Txt>
      <Txt x={352} y={265} s={5.6} b>log2FC</Txt>
      <Txt x={468} y={137} s={4.7} b a="l">Significant</Txt>
      {volcanoGroups.map((gname, i) => (
        <React.Fragment key={gname}>
          <div style={{ position: 'absolute', left: 470.5 - 2.3, top: ys[i] - 2.3, width: 4.6, height: 4.6, borderRadius: '50%', background: colors[i] }} />
          <Txt x={475} y={ys[i]} s={4.3} a="l" c="#333">{`${gname}(${volcanoGroupCounts[i]})`}</Txt>
        </React.Fragment>
      ))}
    </>
  );
}

const B_BOX = { x: 6, y: 325, w: 314, h: 228 };
const B_AREA = { l: 126.7, t: 329.3, r: 318.3, b: 541.3 };
function PanelB() {
  return (
    <>
      {letter('B', 29, 305)}
      <Txt x={222} y={306} s={8.9}>GO enrichment analysis</Txt>
      <Txt x={222} y={318} s={9}><Compare /></Txt>
      <ChartCanvas
        box={B_BOX}
        make={() => dotConfig({
          box: B_BOX, area: B_AREA, labels: goTerms, xs: goRich, nums: goNumber, padj: goPadj, padjMax: goPadjMax,
          ramp: BC_RAMP, size: goSize, xMin: 0, xMax: 0.25, xTicks: goXTicks, labelFont: 5.2, tickFont: 4.6,
          frame: '#7a7a7a', tickMarks: true, yPad: 1.5, xPad: 1,
        })}
      />
      <Txt x={11.7} y={435} s={5.6} b r>GO term</Txt>
      <Txt x={222} y={555} s={5.9} b>Rich factor</Txt>
      <Txt x={325} y={384} s={5.4} b a="l">Padjust</Txt>
      <ColorBar x={327.3} y={390} w={8.4} h={44} stops={BC_RAMP} max={goPadjMax} ticks={goPadjTicks} labels={goPadjLabels} lx={339} fs={4.5} />
      <Txt x={325} y={449.3} s={5.4} b a="l">Number</Txt>
      <SizeKeys cx={327.5} ys={[457.3, 465.7, 474, 483.7]} values={goNumberKeys} size={goSize} lx={335} fs={4.6} />
    </>
  );
}

const C_BOX = { x: 380, y: 328, w: 323, h: 230 };
const C_AREA = { l: 514, t: 333, r: 700, b: 545 };
function PanelC() {
  return (
    <>
      {letter('C', 437, 304)}
      <Txt x={604} y={311} s={9}>KEGG enrichment analysis</Txt>
      <Txt x={604} y={322.7} s={9}><Compare /></Txt>
      <ChartCanvas
        box={C_BOX}
        make={() => dotConfig({
          box: C_BOX, area: C_AREA, labels: keggTerms, xs: keggRich, nums: keggNumber, padj: keggPadj, padjMax: keggPadjMax,
          ramp: BC_RAMP, size: keggSize, xMin: 0.2, xMax: 0.6, xTicks: keggXTicks, labelFont: 5.2, tickFont: 4.6,
          frame: '#7a7a7a', tickMarks: true, yPad: 2, xPad: 1,
        })}
      />
      <Txt x={396.7} y={440} s={6} b r>KEGG pathway</Txt>
      <Txt x={607} y={558.3} s={6} b>Rich Factor</Txt>
      <Txt x={708.3} y={388.3} s={5.4} b a="l">Padjust</Txt>
      <ColorBar x={710.7} y={394} w={8} h={43.3} stops={BC_RAMP} max={keggPadjMax} ticks={keggPadjTicks} labels={keggPadjLabels} lx={721.7} fs={4.5} />
      <Txt x={708.3} y={453.3} s={5.4} b a="l">Number</Txt>
      <SizeKeys cx={710.5} ys={[461.3, 469, 478.3, 488.3]} values={keggNumberKeys} size={keggSize} lx={718.3} fs={4.6} />
    </>
  );
}

const D_BOX = { x: 5, y: 628, w: 315, h: 230 };
const D_AREA = { l: 111.7, t: 633.7, r: 316.7, b: 845.1 };
const UP_SHAPES = { MF: 'circle', BP: 'triangle', CC: 'rect' };
function PanelD() {
  return (
    <>
      {letter('D', 8.8, 611.7)}
      <Txt x={214.3} y={611.7} s={9}>GO enrichment analysis</Txt>
      <Txt x={214.3} y={621.7} s={9}>eWAT UP</Txt>
      <ChartCanvas
        box={D_BOX}
        make={() => dotConfig({
          box: D_BOX, area: D_AREA, labels: upTerms, xs: upRich, nums: upNumber, padj: upPadj, padjMax: upPadjMax, types: upType,
          shapeOf: UP_SHAPES, ramp: RYB_RAMP, size: upSize, xMin: 0, xMax: 0.25, xTicks: goXTicks, labelFont: 5, tickFont: 4.6,
          frame: null, tickMarks: false, yPad: 3.4, xPad: 3,
        })}
      />
      <Txt x={4.5} y={746.7} s={5.6} b r>GO term</Txt>
      <Txt x={214.3} y={859} s={5.9} b>Rich factor</Txt>
      <Txt x={325} y={676.7} s={5.4} b a="l">Padjust</Txt>
      <ColorBar x={327.3} y={681.7} w={7.7} h={44.3} stops={RYB_RAMP} max={upPadjMax} ticks={upPadjTicks} labels={upPadjLabels} lx={338.3} fs={4.5} />
      <Txt x={325} y={736.7} s={5.4} b a="l">Number</Txt>
      <SizeKeys cx={327.7} ys={[744.3, 753, 762, 771.7]} values={upNumberKeys} size={upSize} lx={335} fs={4.6} />
      <Txt x={325} y={789} s={5.4} b a="l">Type</Txt>
      <TypeKeys cx={327.7} ys={[796.7, 805.7, 814]} keys={upTypeKeys} shapeOf={UP_SHAPES} lx={335} fs={4.6} r={2.4} />
    </>
  );
}

const E_BOX = { x: 385, y: 635, w: 318, h: 228 };
const E_AREA = { l: 500.5, t: 640.4, r: 698.3, b: 851.8 };
const DOWN_SHAPES = { BP: 'circle', MF: 'triangle', CC: 'rect' };
function PanelE() {
  return (
    <>
      {letter('E', 395, 610)}
      <Txt x={581.7} y={621} s={9}>GO enrichment analysis</Txt>
      <Txt x={581.7} y={630.7} s={9}>eWAT DOWN</Txt>
      <ChartCanvas
        box={E_BOX}
        make={() => dotConfig({
          box: E_BOX, area: E_AREA, labels: downTerms, xs: downRich, nums: downNumber, padj: downPadj, padjMax: downPadjMax, types: downType,
          shapeOf: DOWN_SHAPES, ramp: RYB_RAMP, size: downSize, xMin: 0, xMax: 0.25, xTicks: goXTicks, labelFont: 5.2, tickFont: 4.6,
          frame: null, tickMarks: false, yPad: 3.8, xPad: 2.6,
        })}
      />
      <Txt x={385} y={746.7} s={5.8} b r>GO term</Txt>
      <Txt x={599} y={865} s={6} b>Rich factor</Txt>
      <Txt x={706.7} y={682.7} s={5.3} b a="l">Padjust</Txt>
      <ColorBar x={708} y={689} w={9} h={43.7} stops={RYB_RAMP} max={downPadjMax} ticks={downPadjTicks} labels={downPadjLabels} lx={719.5} fs={4.3} />
      <Txt x={706.7} y={742.7} s={5.3} b a="l">Number</Txt>
      <SizeKeys cx={708.3} ys={[750.7, 759, 768.3, 778.3]} values={downNumberKeys} size={downSize} lx={716.7} fs={4.5} />
      <Txt x={706.7} y={795.3} s={5.3} b a="l">Type</Txt>
      <TypeKeys cx={708.3} ys={[803.3, 812, 821]} keys={downTypeKeys} shapeOf={DOWN_SHAPES} lx={716.7} fs={4.5} r={2.4} />
    </>
  );
}

function PanelF() {
  return (
    <>
      {letter('F', 18.3, 973.3)}
      <Txt x={132.7} y={995.7} s={10.6}>Heatmap(cGAS-STING)</Txt>
      <ChartCanvas box={HEAT_BOX} make={heatConfig} />
      <ColorBar x={298.3} y={1027.7} w={8.4} h={43} stops={heatBarStops()} min={heatLegendMin} max={heatLegendMax} ticks={heatLegendTicks} labels={heatLegendTicks.map(String)} lx={309.5} fs={4.6} />
      <Txt x={74.5} y={1395} s={12}>HFD Nrf2<Sup>flox/flox</Sup></Txt>
      <Txt x={171.5} y={1395} s={12}>HFD Nrf2<Sup>Δ/adipo</Sup></Txt>
    </>
  );
}

const G_BOX = { x: 362, y: 925, w: 335, h: 250 };
const G_AREA = { l: 486.7, t: 930.9, r: 691.7, b: 1163.5 };
const STING_SHAPES = { OS: 'circle', HD: 'triangle', EIP: 'rect', CP: 'rectRot' };
function PanelG() {
  return (
    <>
      {letter('G', 366, 912.7)}
      <Txt x={559} y={902.7} s={9.8}>KEGG annotations analysis(cGAS-STING)</Txt>
      <Txt x={559} y={916} s={10}><Compare /></Txt>
      <ChartCanvas
        box={G_BOX}
        make={() => dotConfig({
          box: G_BOX, area: G_AREA, labels: stingTerms, xs: stingRich, nums: stingNumber, padj: stingPadj, padjMax: stingPadjMax, types: stingType,
          shapeOf: STING_SHAPES, ramp: RYB_RAMP, size: stingSize, xMin: 0, xMax: 0.2, xTicks: stingXTicks, labelFont: 5.5, tickFont: 4.8,
          frame: null, tickMarks: false, yPad: 5, xPad: 3.3,
        })}
      />
      <Txt x={359.3} y={1046.7} s={6.6} b r>KEGG pathway</Txt>
      <Txt x={589} y={1178.3} s={6.6} b>Rich Factor</Txt>
      <Txt x={700.7} y={977.3} s={5.8} b a="l">Padjust</Txt>
      <ColorBar x={703.3} y={983.3} w={7.7} h={48.4} stops={RYB_RAMP} max={stingPadjMax} ticks={stingPadjTicks} labels={stingPadjLabels} lx={713.3} fs={5.2} />
      <Txt x={700.7} y={1044} s={5.8} b a="l">Number</Txt>
      <SizeKeys cx={703.3} ys={[1052.3, 1061.7, 1071.3, 1082]} values={stingNumberKeys} size={stingSize} lx={711.7} fs={5.3} />
      <Txt x={700.7} y={1101.7} s={5.8} b a="l">Type</Txt>
      <TypeKeys cx={703.3} ys={[1110, 1120, 1130, 1139.3]} keys={stingTypeKeys} shapeOf={STING_SHAPES} lx={708.3} fs={5.3} r={2.5} />
    </>
  );
}

function PanelH() {
  const legendItems = [
    { color: '#1ee81e', x: 471.7, tx: 481.7, text: 'Enrichment profile', h: 1.3 },
    { color: '#222', x: 540, tx: 549, text: 'Hits', h: 0.8 },
    { color: '#cfcfcf', x: 576.7, tx: 586.7, text: 'Ranking metric scores', h: 0.8 },
  ];
  return (
    <>
      {letter('H', 457, 1196)}
      <div style={{ position: 'absolute', left: 443, top: 1204, width: 255, height: 271, background: '#eeeeee' }} />
      <Txt x={563} y={1210.7} s={9.7} b c="#111">Enrichment plot: MMU04623</Txt>
      <ChartCanvas box={ES_BOX} make={esConfig} />
      <ChartCanvas box={HIT_BOX} make={hitConfig} />
      <ChartCanvas box={MET_BOX} make={metricConfig} />
      <Txt x={445} y={1272} s={6} r c="#333">Enrichment score (ES)</Txt>
      <Txt x={445} y={1404.7} s={6} r c="#333">Ranked list metric (Signal2Noise)</Txt>
      <Txt x={460.5} y={1371.5} s={4.6} a="l" c="#ff5a5a">'HFDANKO' (positively correlated)</Txt>
      <Txt x={486.7} y={1403.3} s={4.4} a="l" c="#666">{`Zero cross at ${zeroCross}`}</Txt>
      <Txt x={576.7} y={1433.3} s={4.6} a="l" c="#7070ff">'ConHFD' (negatively correlated)</Txt>
      <Txt x={576.7} y={1453.3} s={6.4} c="#333">Rank in Ordered Dataset</Txt>
      <div style={{ position: 'absolute', left: 470, top: 1461.7, width: 183, height: 12.3, background: '#fff', border: '0.6px solid #888', boxSizing: 'border-box' }} />
      {legendItems.map((it) => (
        <React.Fragment key={it.text}>
          <div style={{ position: 'absolute', left: it.x, top: 1467.8 - it.h / 2, width: 7.6, height: it.h, background: it.color }} />
          <Txt x={it.tx} y={1467.8} s={6.2} a="l" c="#333">{it.text}</Txt>
        </React.Fragment>
      ))}
    </>
  );
}

export default function App() {
  return (
    <div
      style={{
        position: 'absolute', left: 0, top: 0, width: 752, height: 1478, overflow: 'hidden', background: '#fff',
        fontFamily: FONT, color: '#222',
      }}
    >
      <PanelA />
      <PanelB />
      <PanelC />
      <PanelD />
      <PanelE />
      <PanelF />
      <PanelG />
      <PanelH />
    </div>
  );
}
